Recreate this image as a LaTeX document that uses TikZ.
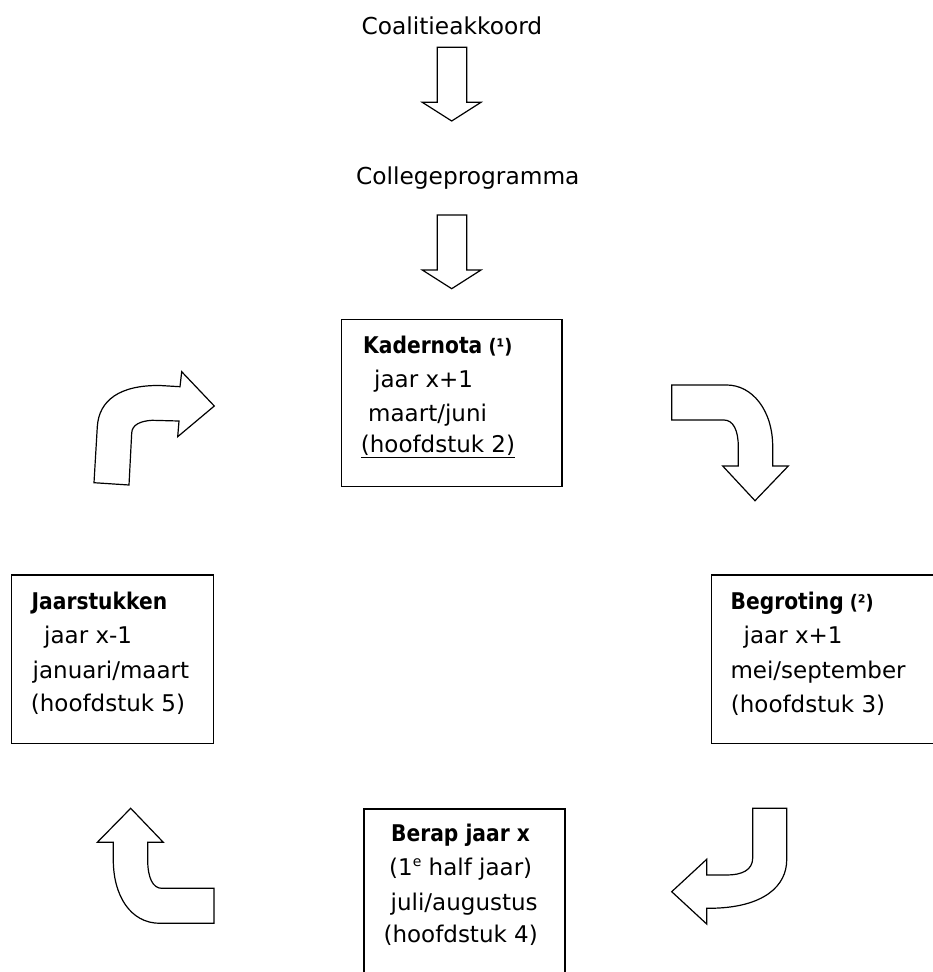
\documentclass[tikz,border=0pt]{standalone}
\usepackage{fontspec}
\setmainfont{DejaVu Sans}
\newfontfamily\hbfont{DejaVu Sans}[FakeStretch=0.88]
\tikzset{
  box/.style={draw, line width=1.5pt, rectangle, inner sep=0pt},
  lbl/.style={anchor=base west, inner sep=0pt, font=\fontsize{23}{27}\selectfont},
  ttl/.style={anchor=base, inner sep=0pt, font=\fontsize{23.3}{27}\selectfont},
  blockarrow/.style={draw, line width=1.2pt, line join=miter, fill=white},
}
\newcommand{\hd}[1]{{\hbfont\bfseries #1}}
\newcommand{\nt}[1]{{\hbfont\bfseries\fontsize{20}{20}\selectfont #1}}
\newcommand{\supe}{{\fontsize{14}{14}\selectfont\raisebox{9pt}{e}}}
\begin{document}
\begin{tikzpicture}[x=1pt,y=-1pt]
\path[use as bounding box] (0,0) rectangle (933,972);
\clip (0,0) rectangle (933,972);

% titles
\node[ttl] (coal) at (451.9,34.3) {Coalitieakkoord};
\node[ttl] (coll) at (467.8,184) {Collegeprogramma};

% straight block arrows
\path[blockarrow] (437.3,47.3) -- (466.7,47.3) -- (466.7,102.3) -- (481,102.3)
  -- (451.7,121) -- (422.3,102.3) -- (437.3,102.3) -- cycle;
\path[blockarrow] (437.3,215) -- (466.7,215) -- (466.7,270) -- (481,270)
  -- (451.7,288.7) -- (422.3,270) -- (437.3,270) -- cycle;

% boxes
\node[box, minimum width=220.3pt, minimum height=167.4pt] (kader) at (451.85,403) {};
\node[box, minimum width=201.6pt, minimum height=168.3pt] (jaar) at (112.5,659.15) {};
\node[box, minimum width=224.3pt, minimum height=168.3pt] (begr) at (823.85,659.15) {};
\node[box, minimum width=201pt, minimum height=168pt] (berap) at (464.5,893) {};

% Kadernota
\node[lbl] (k1) at (363,353.3) {\hd{Kadernota}\nt{ (¹)}};
\node[lbl] (k2) at (374,387.3) {jaar x+1};
\node[lbl] (k3) at (368,421.7) {maart/juni};
\node[lbl] (k4) at (360.7,452.7) {\underline{(hoofdstuk 2)}};

% Jaarstukken
\node[lbl] (j1) at (31.5,609.3) {\hd{Jaarstukken}};
\node[lbl] (j2) at (44,643.3) {jaar x-1};
\node[lbl] (j3) at (32.5,678.3) {januari/maart};
\node[lbl] (j4) at (30.7,711.7) {(hoofdstuk 5)};

% Begroting
\node[lbl] (b1) at (730.5,609) {\hd{Begroting}\nt{ (²)}};
\node[lbl] (b2) at (743.5,643) {jaar x+1};
\node[lbl] (b3) at (730.3,678) {mei/september};
\node[lbl] (b4) at (730.7,712) {(hoofdstuk 3)};

% Berap
\node[lbl] (r1) at (391,841.7) {\hd{Berap jaar x}};
\node[lbl] (r2) at (389,875) {(1\supe{} half jaar)};
\node[lbl] (r3) at (390.5,910) {juli/augustus};
\node[lbl] (r4) at (383.4,942.7) {(hoofdstuk 4)};

% curved block arrows
% top-left (Jaarstukken -> Kadernota)
\path[blockarrow] (94,482.7) -- (97.3,426.7)
  .. controls (99,400) and (120,385) .. (160,385.5) -- (180,386.7)
  -- (181.7,371.7) -- (214.3,406) -- (177.7,436.7) -- (179,421)
  -- (152,420.3) .. controls (140,421) and (132,425) .. (131.7,433)
  -- (129,485) -- cycle;
% top-right (Kadernota -> Begroting)
\path[blockarrow] (671.7,385) -- (726.7,385)
  .. controls (752,385) and (772.7,410) .. (772.7,446.7) -- (772.7,466)
  -- (788.3,466) -- (755,500.7) -- (722.7,466) -- (738.3,466) -- (738.3,446.7)
  .. controls (738.3,430) and (733,420) .. (724,420) -- (671.7,420) -- cycle;
% bottom-right (Begroting -> Berap)
\path[blockarrow] (752.7,808.3) -- (786.7,808.3) -- (786.7,860)
  .. controls (786.7,885) and (765,908.3) .. (708.3,908.3) -- (706.7,908.3)
  -- (706.7,924) -- (671.7,891.7) -- (706.7,859.3) -- (706.7,875) -- (726.7,875)
  .. controls (742,875) and (752.7,870) .. (752.7,858) -- cycle;
% bottom-left (Berap -> Jaarstukken)
\path[blockarrow] (130.7,808.3) -- (163.3,842.3) -- (147.7,842.3) -- (147.7,860)
  .. controls (147.7,878) and (153,888.3) .. (161.7,888.3) -- (214,888.3)
  -- (214,923.3) -- (160,923.3)
  .. controls (130,923.3) and (113.3,895) .. (113.3,860) -- (113.3,842.3)
  -- (97.3,842.3) -- cycle;
\end{tikzpicture}
\end{document}
